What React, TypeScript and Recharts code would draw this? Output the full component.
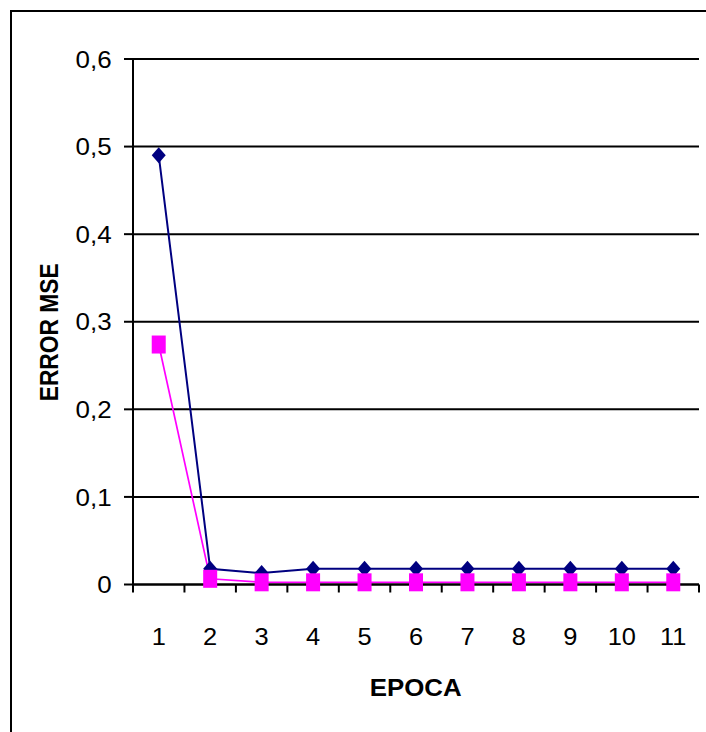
import React from "react";
import { LineChart, Line, XAxis, YAxis, CartesianGrid, Label } from "recharts";

const epochs = ["1", "2", "3", "4", "5", "6", "7", "8", "9", "10", "11"];
const serieA = [0.49, 0.018, 0.013, 0.018, 0.018, 0.018, 0.018, 0.018, 0.018, 0.018, 0.018];
const serieB = [0.274, 0.0065, 0.0025, 0.0025, 0.0025, 0.0025, 0.0025, 0.0025, 0.0025, 0.0025, 0.0025];
const yTicks = [0, 0.1, 0.2, 0.3, 0.4, 0.5, 0.6];

const data = epochs.map((e, i) => ({ epoca: e, a: serieA[i], b: serieB[i] }));

const W = 706;
const H = 732;
const margin = { top: 59, right: 7, bottom: 87, left: 11 };
const Y_W = 122;
const X_H = 60.5;
const plotW = W - margin.left - margin.right - Y_W;
const half = plotW / epochs.length / 2;
const font = "'Liberation Sans', Arial, sans-serif";

const fmt = (v: number) => (v === 0 ? "0" : v.toFixed(1).replace(".", ","));

// the source picture is a bit wider than tall, so text gets a small x stretch
function T(props: any) {
  const { x, y, sx = 1, sy = 1, rot = 0, anchor = "middle", size, bold, children } = props;
  return (
    <text
      transform={`translate(${x},${y}) rotate(${rot}) scale(${sx},${sy})`}
      textAnchor={anchor}
      fontFamily={font}
      fontSize={size}
      fontWeight={bold ? "bold" : "normal"}
      fill="#000"
    >
      {children}
    </text>
  );
}

function XTick(props: any) {
  const { x, y, payload, index } = props;
  return (
    <g>
      <line x1={x - half} x2={x - half} y1={y} y2={y + 8} stroke="#000" strokeWidth={2} />
      {index === epochs.length - 1 && (
        <line x1={x + half} x2={x + half} y1={y} y2={y + 8} stroke="#000" strokeWidth={2} />
      )}
      <T x={x} y={y + 60.5} size={24} sx={1.06}>
        {payload.value}
      </T>
    </g>
  );
}

function YTick(props: any) {
  const { x, y, payload } = props;
  return (
    <T x={x + 0.7} y={y + 8.6} size={24.5} sx={1.06} anchor="end">
      {fmt(payload.value)}
    </T>
  );
}

function Diamond(props: any) {
  const { cx, cy } = props;
  if (cx == null || cy == null) return <g />;
  return (
    <path
      d={`M${cx},${cy - 8} L${cx + 7},${cy} L${cx},${cy + 8} L${cx - 7},${cy} Z`}
      fill="#000080"
      stroke="none"
    />
  );
}

function Square(props: any) {
  const { cx, cy } = props;
  if (cx == null || cy == null) return <g />;
  return <rect x={cx - 7} y={cy - 9} width={14} height={18} fill="#FF00FF" />;
}

export default function App() {
  return (
    <div style={{ position: "absolute", left: 0, top: 0, width: W, height: H, overflow: "hidden", background: "#fff" }}>
      <div
        style={{
          position: "absolute",
          left: 10,
          top: 10,
          width: W + 20,
          height: H + 20,
          borderTop: "2px solid #000",
          borderLeft: "2px solid #000",
        }}
      />
      <LineChart width={W} height={H} data={data} margin={margin} style={{ position: "absolute", left: 0, top: 0 }}>
        <CartesianGrid vertical={false} stroke="#000" strokeWidth={2} />
        <XAxis
          dataKey="epoca"
          height={X_H}
          stroke="#000"
          strokeWidth={2}
          tickLine={false}
          tickSize={0}
          tickMargin={0}
          tick={<XTick />}
          interval={0}
          padding={{ left: half, right: half }}
        >
          <Label
            content={() => (
              <T x={415.7} y={695.7} size={23.3} sx={1.11} bold>
                EPOCA
              </T>
            )}
          />
        </XAxis>
        <YAxis
          width={Y_W}
          domain={[0, 0.6]}
          ticks={yTicks}
          stroke="#000"
          strokeWidth={2}
          tickSize={9}
          tickMargin={13}
          tick={<YTick />}
        >
          <Label
            content={() => (
              <T x={58.3} y={332.3} rot={-90} sy={1.12} size={22.8} bold>
                ERROR MSE
              </T>
            )}
          />
        </YAxis>
        <YAxis yAxisId="r" orientation="right" width={0} domain={[0, 1]} tick={false} tickLine={false} stroke="#000" strokeWidth={2} />
        <Line
          dataKey="a"
          stroke="#000080"
          strokeWidth={2}
          dot={<Diamond />}
          isAnimationActive={false}
        />
        <Line
          dataKey="b"
          stroke="#FF00FF"
          strokeWidth={1.7}
          dot={<Square />}
          isAnimationActive={false}
        />
      </LineChart>
    </div>
  );
}
